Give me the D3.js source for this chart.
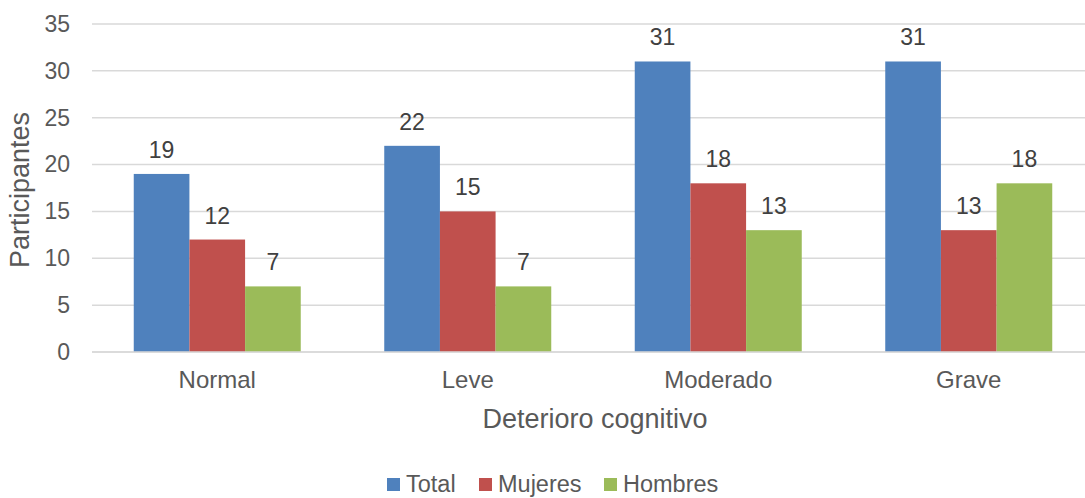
<!DOCTYPE html>
<html>
<head>
<meta charset="utf-8">
<script src="https://cdn.jsdelivr.net/npm/d3@7"></script>
<style>
  html, body { margin: 0; padding: 0; background: #fff; }
  svg { display: block; font-family: "Liberation Sans", Arial, sans-serif; }
</style>
</head>
<body>
<svg id="chart" width="1085" height="498"></svg>
<script>
// Participants by level of cognitive impairment
const categories = ["Normal", "Leve", "Moderado", "Grave"];
const seriesNames = ["Total", "Mujeres", "Hombres"];
const totalValues = [19, 22, 31, 31];
const mujeresValues = [12, 15, 18, 13];
const hombresValues = [7, 7, 13, 18];
const yTicks = [0, 5, 10, 15, 20, 25, 30, 35];
const colors = ["#4F81BD", "#C0504D", "#9BBB59"];

const seriesValues = [totalValues, mujeresValues, hombresValues];
const svg = d3.select("#chart");
const textColor = "#595959";
const fontFamily = "'Liberation Sans', Arial, sans-serif";

const plotLeft = 92, plotRight = 1094, plotTop = 24, plotBottom = 352;

const x = d3.scaleBand().domain(categories).range([plotLeft, plotRight])
  .paddingInner(1 / 3).paddingOuter(1 / 6);
const xs = d3.scaleBand().domain(seriesNames).range([0, x.bandwidth()]);
const y = d3.scaleLinear().domain([0, 35]).range([plotBottom, plotTop]);

// gridlines
svg.append("g").selectAll("line").data(yTicks).join("line")
  .attr("x1", plotLeft).attr("x2", 1085)
  .attr("y1", d => y(d)).attr("y2", d => y(d))
  .attr("stroke", "#D9D9D9").attr("stroke-width", 1.5);

// y tick labels
const yAxis = d3.axisLeft(y).tickValues(yTicks).tickSize(0).tickPadding(0);
const gy = svg.append("g").attr("transform", `translate(${plotLeft - 22},0)`).call(yAxis);
gy.select(".domain").remove();
gy.attr("font-family", fontFamily);
gy.selectAll("text").attr("fill", textColor).attr("font-size", 23);

// bars with value labels
const groups = svg.append("g").selectAll("g").data(categories).join("g")
  .attr("transform", d => `translate(${x(d)},0)`);

groups.each(function (cat, ci) {
  const g = d3.select(this);
  seriesNames.forEach((s, si) => {
    const v = seriesValues[si][ci];
    g.append("rect")
      .attr("x", xs(s)).attr("width", xs.bandwidth())
      .attr("y", y(v)).attr("height", y(0) - y(v))
      .attr("fill", colors[si]);
    g.append("text")
      .attr("x", xs(s) + xs.bandwidth() / 2)
      .attr("y", y(v) - 16)
      .attr("text-anchor", "middle")
      .attr("font-family", fontFamily)
      .attr("font-size", 23).attr("fill", "#404040")
      .text(v);
  });
});

// baseline
svg.append("line").attr("x1", plotLeft).attr("x2", 1085)
  .attr("y1", y(0)).attr("y2", y(0))
  .attr("stroke", "#D9D9D9").attr("stroke-width", 1.5);

// x category labels
const xAxis = d3.axisBottom(x).tickSize(0).tickPadding(0);
const gx = svg.append("g").attr("transform", `translate(0,${y(0) + 19})`).call(xAxis);
gx.select(".domain").remove();
gx.attr("font-family", fontFamily);
gx.selectAll("text").attr("fill", textColor).attr("font-size", 24);

// axis titles
svg.append("text").attr("x", 595).attr("y", 428)
  .attr("text-anchor", "middle").attr("font-family", fontFamily)
  .attr("font-size", 27).attr("fill", textColor)
  .text("Deterioro cognitivo");
svg.append("text")
  .attr("transform", "translate(29,190) rotate(-90)")
  .attr("text-anchor", "middle").attr("font-family", fontFamily)
  .attr("font-size", 27).attr("fill", textColor)
  .text("Participantes");

// legend
const legendX = [387, 479, 604];
const legend = svg.append("g").selectAll("g").data(seriesNames).join("g")
  .attr("transform", (d, i) => `translate(${legendX[i]},478)`);
legend.append("rect").attr("width", 13).attr("height", 13)
  .attr("fill", (d, i) => colors[i]);
legend.append("text").attr("x", 19).attr("y", 14)
  .attr("font-family", fontFamily)
  .attr("font-size", 23.5).attr("fill", textColor).text(d => d);
</script>
</body>
</html>
